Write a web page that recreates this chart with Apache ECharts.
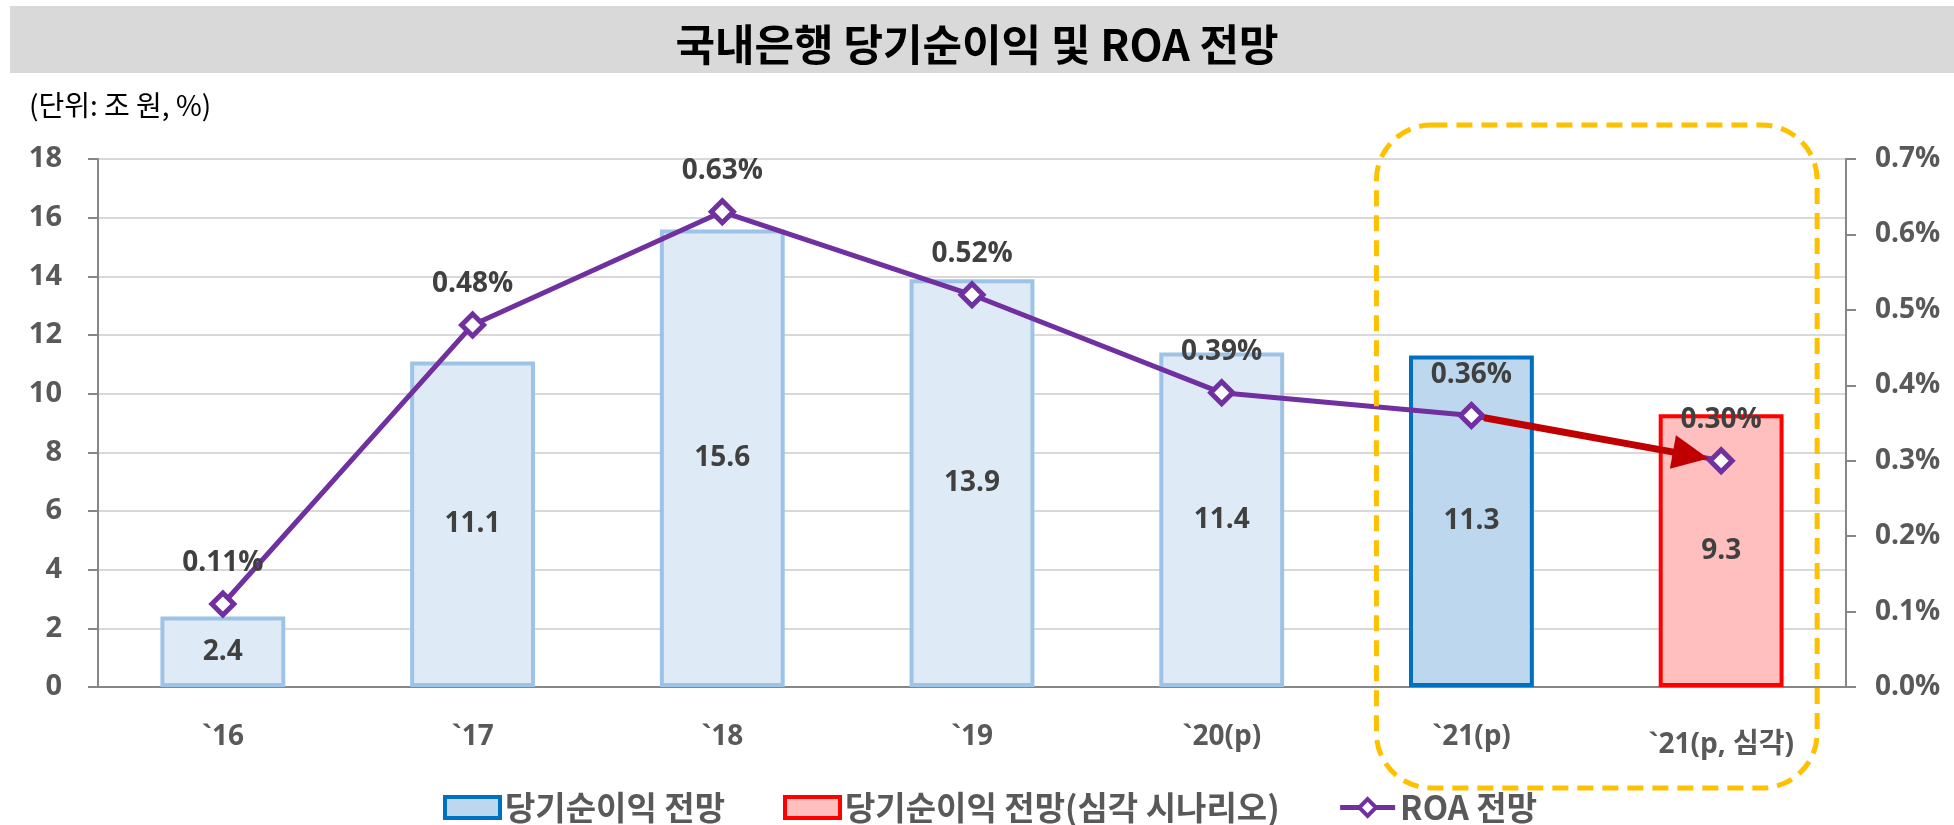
<!DOCTYPE html>
<html>
<head>
<meta charset="utf-8">
<script src="https://cdn.jsdelivr.net/npm/echarts@6/dist/echarts.min.js"></script>
<style>
html, body { margin: 0; padding: 0; background: #fff; }
#chart { width: 1954px; height: 825px; }
</style>
</head>
<body>
<div id="chart"></div>
<script>
// 데이터
var categories = ['`16', '`17', '`18', '`19', '`20(p)', '`21(p)', '`21(p, 심각)'];
var profit = [2.4, 11.1, 15.6, 13.9, 11.4, 11.3, '-'];        // 당기순이익 전망 (조 원)
var profitSevere = ['-', '-', '-', '-', '-', '-', 9.3];         // 심각 시나리오
var roa = [0.11, 0.48, 0.63, 0.52, 0.39, 0.36, 0.30];           // ROA (%)
var leftMax = 18, leftStep = 2;
var rightMax = 0.7, rightStep = 0.1;
var pastCount = 5;   // 실적 구간 (옅은 색)

var NUM_FONT = "'Open Sans', 'Noto Sans CJK KR', sans-serif";
var KR_FONT = "'Noto Sans CJK KR', sans-serif";

var chart = echarts.init(document.getElementById('chart'), null, { renderer: 'canvas' });

var profitData = profit.map(function (v, i) {
	if (i < pastCount) {
		return { value: v, itemStyle: { color: '#deebf7', borderColor: '#9dc3e6', borderWidth: 4 } };
	}
	return v;
});

var option = {
	backgroundColor: '#fff',
	animation: false,
	title: [{
		text: '국내은행 당기순이익 및 ROA 전망',
		left: 'center',
		top: 12,
		textStyle: { fontFamily: KR_FONT, fontSize: 43, fontWeight: 'bold', color: '#000', lineHeight: 56 }
	}, {
		text: '(단위: 조 원, %)',
		left: 24,
		top: 86,
		textStyle: { fontFamily: KR_FONT, fontSize: 28, fontWeight: 'normal', color: '#000' }
	}],
	legend: {
		left: 438,
		top: 786,
		itemWidth: 55,
		itemHeight: 21,
		itemGap: 58,
		textStyle: { fontFamily: KR_FONT, fontSize: 33, fontWeight: 'bold', color: '#595959' },
		data: [
			{ name: '당기순이익 전망', icon: 'rect', itemStyle: { borderWidth: 4 } },
			{ name: '당기순이익 전망(심각 시나리오)', icon: 'rect', itemStyle: { borderWidth: 4 } },
			{ name: 'ROA 전망', lineStyle: { width: 5 }, itemStyle: { borderWidth: 4 } }
		]
	},
	grid: { left: 98, right: 108, top: 159, bottom: 138, containLabel: false, outerBoundsMode: 'none' },
	xAxis: {
		type: 'category',
		data: categories,
		axisLine: { lineStyle: { color: '#868686', width: 2 } },
		axisTick: { inside: true, length: 9, lineStyle: { color: '#868686', width: 2 } },
		axisLabel: {
			interval: 0,
			margin: 36,
			fontFamily: NUM_FONT, fontSize: 28, fontWeight: 'bold', color: '#595959',
			formatter: function (v, i) {
				return i === categories.length - 1 ? '{low|' + v + '}' : v;
			},
			rich: {
				low: { fontFamily: NUM_FONT, fontSize: 28, fontWeight: 'bold', color: '#595959', padding: [8, 0, 0, 0] }
			}
		}
	},
	yAxis: [{
		type: 'value',
		min: 0, max: leftMax, interval: leftStep,
		axisLine: { show: true, lineStyle: { color: '#868686', width: 2 } },
		axisTick: { show: true, length: 10, lineStyle: { color: '#868686', width: 2 } },
		axisLabel: { margin: 36, fontFamily: NUM_FONT, fontSize: 29, fontWeight: 'bold', color: '#595959' },
		splitLine: { lineStyle: { color: '#d9d9d9', width: 2 } }
	}, {
		type: 'value',
		min: 0, max: rightMax, interval: rightStep,
		axisLine: { show: true, lineStyle: { color: '#868686', width: 2 } },
		axisTick: { show: true, length: 10, lineStyle: { color: '#868686', width: 2 } },
		axisLabel: {
			margin: 29, fontFamily: NUM_FONT, fontSize: 28, fontWeight: 'bold', color: '#595959',
			formatter: function (v) { return v.toFixed(1) + '%'; }
		},
		splitLine: { show: false }
	}],
	series: [{
		name: '당기순이익 전망',
		type: 'bar',
		barWidth: '50%',
		barGap: '-100%',
		data: profitData,
		itemStyle: { color: '#bdd7ee', borderColor: '#0070c0', borderWidth: 4 },
		label: {
			show: true, position: 'inside',
			fontFamily: NUM_FONT, fontSize: 28, fontWeight: 'bold', color: '#404040'
		}
	}, {
		name: '당기순이익 전망(심각 시나리오)',
		type: 'bar',
		barWidth: '50%',
		barGap: '-100%',
		data: profitSevere,
		itemStyle: { color: '#ffbfbf', borderColor: '#ff0000', borderWidth: 4 },
		label: {
			show: true, position: 'inside',
			fontFamily: NUM_FONT, fontSize: 28, fontWeight: 'bold', color: '#404040'
		}
	}, {
		name: 'ROA 전망',
		type: 'line',
		yAxisIndex: 1,
		data: roa,
		z: 4,
		symbol: 'diamond',
		symbolSize: 22,
		showAllSymbol: true,
		lineStyle: { color: '#7030a0', width: 5 },
		itemStyle: { color: '#ffffff', borderColor: '#7030a0', borderWidth: 5 },
		label: {
			show: true, position: 'top', distance: 13,
			fontFamily: NUM_FONT, fontSize: 28, fontWeight: 'bold', color: '#404040',
			formatter: function (p) { return p.value.toFixed(2) + '%'; }
		}
	}],
	graphic: [{
		id: 'titleBar',
		type: 'rect',
		z: -10,
		silent: true,
		shape: { x: 10, y: 6, width: 1944, height: 67 },
		style: { fill: '#d9d9d9' }
	}]
};

chart.setOption(option);

// 주석: 시나리오 구간 점선 박스와 빨간 화살표 (축 좌표에서 계산)
function drawNotes() {
	var from = chart.convertToPixel({ seriesIndex: 2 }, [5, roa[5]]);
	var to = chart.convertToPixel({ seriesIndex: 2 }, [6, roa[6]]);
	var c5 = chart.convertToPixel({ xAxisIndex: 0 }, 5);
	var c6 = chart.convertToPixel({ xAxisIndex: 0 }, 6);

	var dx = to[0] - from[0], dy = to[1] - from[1];
	var len = Math.sqrt(dx * dx + dy * dy);
	var ux = dx / len, uy = dy / len;
	var nx = -uy, ny = ux;
	var start = [from[0] + ux * 13, from[1] + uy * 13];
	var tip = [to[0] - ux * 13, to[1] - uy * 13];
	var headLen = 36, headHalf = 17;
	var base = [tip[0] - ux * headLen, tip[1] - uy * headLen];

	chart.setOption({
		graphic: [{
			id: 'scenarioBox',
			type: 'rect',
			z: 100,
			silent: true,
			shape: { x: c5 - 95, y: 125, width: (c6 + 96) - (c5 - 95), height: 663, r: 55 },
			style: { fill: 'none', stroke: '#ffc000', lineWidth: 5, lineDash: [16, 9] }
		}, {
			id: 'arrowShaft',
			type: 'line',
			z: 100,
			silent: true,
			shape: { x1: start[0], y1: start[1], x2: base[0] + ux * 2, y2: base[1] + uy * 2 },
			style: { stroke: '#c00000', lineWidth: 7 }
		}, {
			id: 'arrowHead',
			type: 'polygon',
			z: 100,
			silent: true,
			shape: { points: [tip, [base[0] + nx * headHalf, base[1] + ny * headHalf], [base[0] - nx * headHalf, base[1] - ny * headHalf]] },
			style: { fill: '#c00000' }
		}]
	});
}
drawNotes();
</script>
</body>
</html>
